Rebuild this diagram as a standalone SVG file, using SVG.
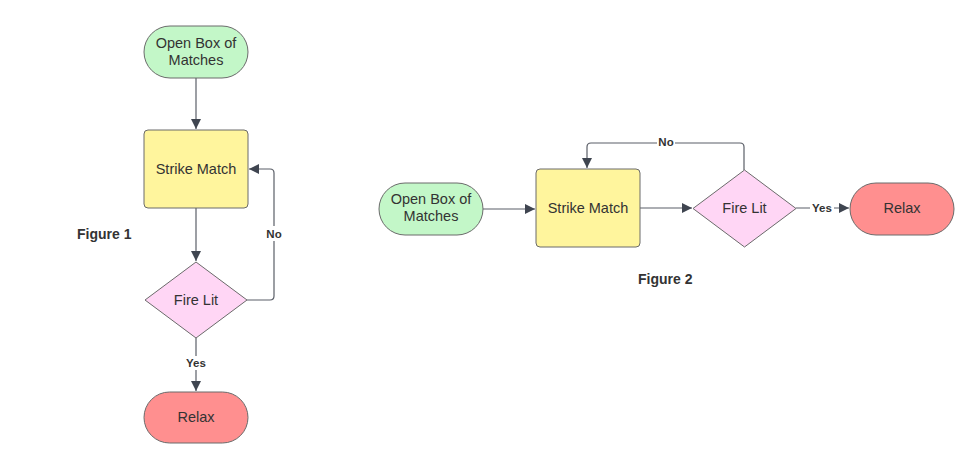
<svg xmlns="http://www.w3.org/2000/svg" width="980" height="470" viewBox="0 0 980 470">
<defs>
<marker id="ah" viewBox="0 0 10 10" refX="10" refY="5" markerWidth="10" markerHeight="10" markerUnits="userSpaceOnUse" orient="auto">
<path d="M0,0 L10,5 L0,10 Z" fill="#3f4550"/>
</marker>
<style>
.n{stroke:#6b6b6b;stroke-width:1}
.start{fill:#c3f7c8}
.proc{fill:#fff59d}
.dec{fill:#ffd6f5}
.end{fill:#ff8f8f}
.t{font-family:"Liberation Sans",Arial,sans-serif;font-size:14.5px;fill:#333;text-anchor:middle}
.lbl{font-family:"Liberation Sans",Arial,sans-serif;font-size:11.5px;font-weight:bold;fill:#333;text-anchor:middle}
.fig{font-family:"Liberation Sans",Arial,sans-serif;font-size:14px;font-weight:bold;fill:#333}
.c{fill:none;stroke:#5b5f68;stroke-width:1.2}
</style>
</defs>
<rect width="980" height="470" fill="#fff"/>

<g id="connectors">
<path class="c" d="M196,78 V129" marker-end="url(#ah)"/>
<path class="c" d="M196,208 V261" marker-end="url(#ah)"/>
<path class="c" d="M247,300 H270 Q274,300 274,296 V173 Q274,169 270,169 H249" marker-end="url(#ah)"/>
<path class="c" d="M196,338 V391" marker-end="url(#ah)"/>
<path class="c" d="M483,209 H535" marker-end="url(#ah)"/>
<path class="c" d="M640,208 H692" marker-end="url(#ah)"/>
<path class="c" d="M744,170 V147 Q744,143 740,143 H591 Q587,143 587,147 V168" marker-end="url(#ah)"/>
<path class="c" d="M796,208 H849" marker-end="url(#ah)"/>
<rect x="265" y="226" width="18" height="15" fill="#fff"/>
<text class="lbl" x="274" y="238">No</text>
<rect x="185" y="356" width="22" height="14" fill="#fff"/>
<text class="lbl" x="196" y="367">Yes</text>
<rect x="657" y="135" width="18" height="14" fill="#fff"/>
<text class="lbl" x="666" y="145.5">No</text>
<rect x="810" y="201" width="24" height="14" fill="#fff"/>
<text class="lbl" x="822" y="211.5">Yes</text>
</g>

<g id="f1-open">
<rect class="n start" x="144" y="26" width="104" height="52" rx="26"/>
<text class="t" x="196" y="48">Open Box of</text>
<text class="t" x="196" y="65">Matches</text>
</g>
<g id="f1-strike">
<rect class="n proc" x="144" y="130" width="104" height="78" rx="4"/>
<text class="t" x="196" y="174">Strike Match</text>
</g>
<g id="f1-fire">
<polygon class="n dec" points="196,262 247,300 196,338 145,300" stroke-linejoin="round"/>
<text class="t" x="196" y="305">Fire Lit</text>
</g>
<g id="f1-relax">
<rect class="n end" x="144" y="392" width="104" height="51" rx="25.5"/>
<text class="t" x="196" y="422">Relax</text>
</g>
<text class="fig" x="77" y="239">Figure 1</text>

<g id="f2-open">
<rect class="n start" x="379" y="183" width="104" height="52" rx="26"/>
<text class="t" x="431" y="204">Open Box of</text>
<text class="t" x="431" y="221">Matches</text>
</g>
<g id="f2-strike">
<rect class="n proc" x="536" y="169" width="104" height="78" rx="4"/>
<text class="t" x="588" y="213">Strike Match</text>
</g>
<g id="f2-fire">
<polygon class="n dec" points="744.5,170 796,208.5 744.5,247 693,208.5" stroke-linejoin="round"/>
<text class="t" x="744.5" y="213">Fire Lit</text>
</g>
<g id="f2-relax">
<rect class="n end" x="850" y="183" width="104" height="52" rx="26"/>
<text class="t" x="902" y="213">Relax</text>
</g>
<text class="fig" x="638" y="284">Figure 2</text>
</svg>
